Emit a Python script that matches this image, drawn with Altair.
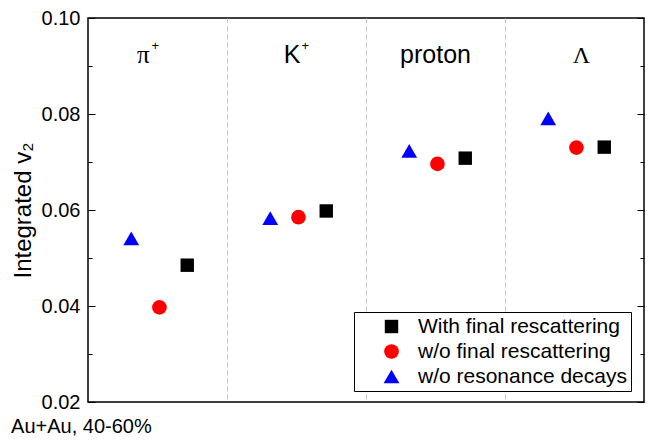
import altair as alt
import pandas as pd

# ---- data ----
particles = ["π+", "K+", "proton", "Λ"]
series = ["With final rescattering", "w/o final rescattering", "w/o resonance decays"]
with_final = [0.0485, 0.0598, 0.0708, 0.0731]
wo_final = [0.0397, 0.0585, 0.0696, 0.0730]
wo_resonance = [0.0541, 0.0583, 0.0723, 0.0791]

label_main = ["π", "K", "proton", "Λ"]
label_sup = ["+", "+", "", ""]

y_domain = [0.02, 0.10]
y_labels = [0.02, 0.04, 0.06, 0.08, 0.10]
y_ticks = [0.02, 0.03, 0.04, 0.05, 0.06, 0.07, 0.08, 0.09, 0.10]

y_title = "Integrated v₂"
bottom_note = "Au+Au, 40-60%"

# ---- layout / style constants ----
W, H = 556, 384
FONT = "Liberation Sans"
SERIF = "Liberation Serif"
series_slot = [0.714, 0.514, 0.311]   # position of each series inside a particle's slot

rows = []
for name, vals, slot in zip(series, [with_final, wo_final, wo_resonance], series_slot):
    for i, (p, v) in enumerate(zip(particles, vals)):
        rows.append({"particle": p, "series": name, "v2": v, "xpos": i + slot})
df = pd.DataFrame(rows)

x_scale = alt.Scale(domain=[0, len(particles)], nice=False, zero=False)
x_enc = alt.X(
    "xpos:Q", scale=x_scale,
    axis=alt.Axis(values=list(range(1, len(particles))), grid=True, gridDash=[5, 3],
                  gridColor="#c8c8c8", gridWidth=1, labels=False, ticks=False,
                  domain=False, title=None),
)
y_scale = alt.Scale(domain=y_domain, nice=False, zero=False)

legend_common = dict(title=None, labelExpr="datum.label + '  '")

points = alt.Chart(df).mark_point(filled=True, opacity=1, strokeWidth=0).encode(
    x=x_enc,
    y=alt.Y("v2:Q", scale=y_scale,
            axis=alt.Axis(orient="left", values=y_labels, format=".2f", ticks=False,
                          domain=False, grid=False, labelFont=FONT, labelFontSize=20,
                          labelColor="black", labelPadding=8, title=y_title,
                          titleFont=FONT, titleFontSize=24, titleFontWeight="normal",
                          titleColor="black", titlePadding=6)),
    shape=alt.Shape("series:N", scale=alt.Scale(domain=series,
                    range=["square", "circle", "triangle-up"]),
                    legend=alt.Legend(**legend_common)),
    color=alt.Color("series:N", scale=alt.Scale(domain=series,
                    range=["#000000", "#ff0000", "#0000ff"]),
                    legend=alt.Legend(**legend_common)),
    size=alt.Size("series:N", scale=alt.Scale(domain=series, range=[180, 250, 310]),
                  legend=alt.Legend(**legend_common)),
)

tick_size = {"condition": {"test": "round(datum.value * 100) % 2 == 1", "value": 4},
             "value": 7}


def tick_layer(orient):
    return alt.Chart(df).mark_point(opacity=0).encode(
        y=alt.Y("v2:Q", scale=y_scale,
                axis=alt.Axis(orient=orient, offset=-W, values=y_ticks, labels=False,
                              domain=False, grid=False, title=None, tickColor="black",
                              tickWidth=1, tickSize=tick_size))
    )


label_df = pd.DataFrame({"particle": particles, "main": label_main, "sup": label_sup,
                         "xpos": [i + 0.5 for i in range(len(particles))]})
label_fonts = [SERIF, FONT, FONT, SERIF]
label_sizes = [25, 25, 25, 24]
label_align = ["right", "right", "center", "center"]
label_dx = [-8, 4, 0, 7]
sup_dx = [-6, 5, 0, 0]

label_layers = []
for i, p in enumerate(particles):
    sub = label_df[label_df.particle == p]
    label_layers.append(
        alt.Chart(sub).mark_text(font=label_fonts[i], fontSize=label_sizes[i],
                                 align=label_align[i], baseline="alphabetic",
                                 dx=label_dx[i], color="black")
        .encode(x=alt.X("xpos:Q", scale=x_scale), y=alt.value(45), text="main:N")
    )
    if label_sup[i]:
        label_layers.append(
            alt.Chart(sub).mark_text(font=FONT, fontSize=13, align="left",
                                     baseline="alphabetic", dx=sup_dx[i], color="black")
            .encode(x=alt.X("xpos:Q", scale=x_scale), y=alt.value(32), text="sup:N")
        )

chart = (
    alt.layer(points, tick_layer("right"), tick_layer("left"), *label_layers)
    .resolve_axis(y="independent")
    .properties(
        width=W, height=H,
        title=alt.TitleParams(bottom_note, orient="bottom", anchor="start", fontSize=20,
                              fontWeight="normal", font=FONT, color="black", offset=5),
        autosize=alt.AutoSizeParams(type="none"),
        padding={"left": 80, "top": 10, "right": 2, "bottom": 36},
    )
    .configure_view(stroke="black", strokeWidth=1.5)
    .configure_legend(orient="none", legendX=266, legendY=294, padding=4,
                      strokeColor="black", strokeWidth=1, fillColor="white",
                      labelFont=FONT, labelFontSize=21, labelColor="black",
                      labelLimit=400, symbolOffset=23, labelOffset=16, rowPadding=3,
                      symbolStrokeWidth=0)
)

chart.save("out.html", embed_options={"renderer": "svg", "actions": False})
